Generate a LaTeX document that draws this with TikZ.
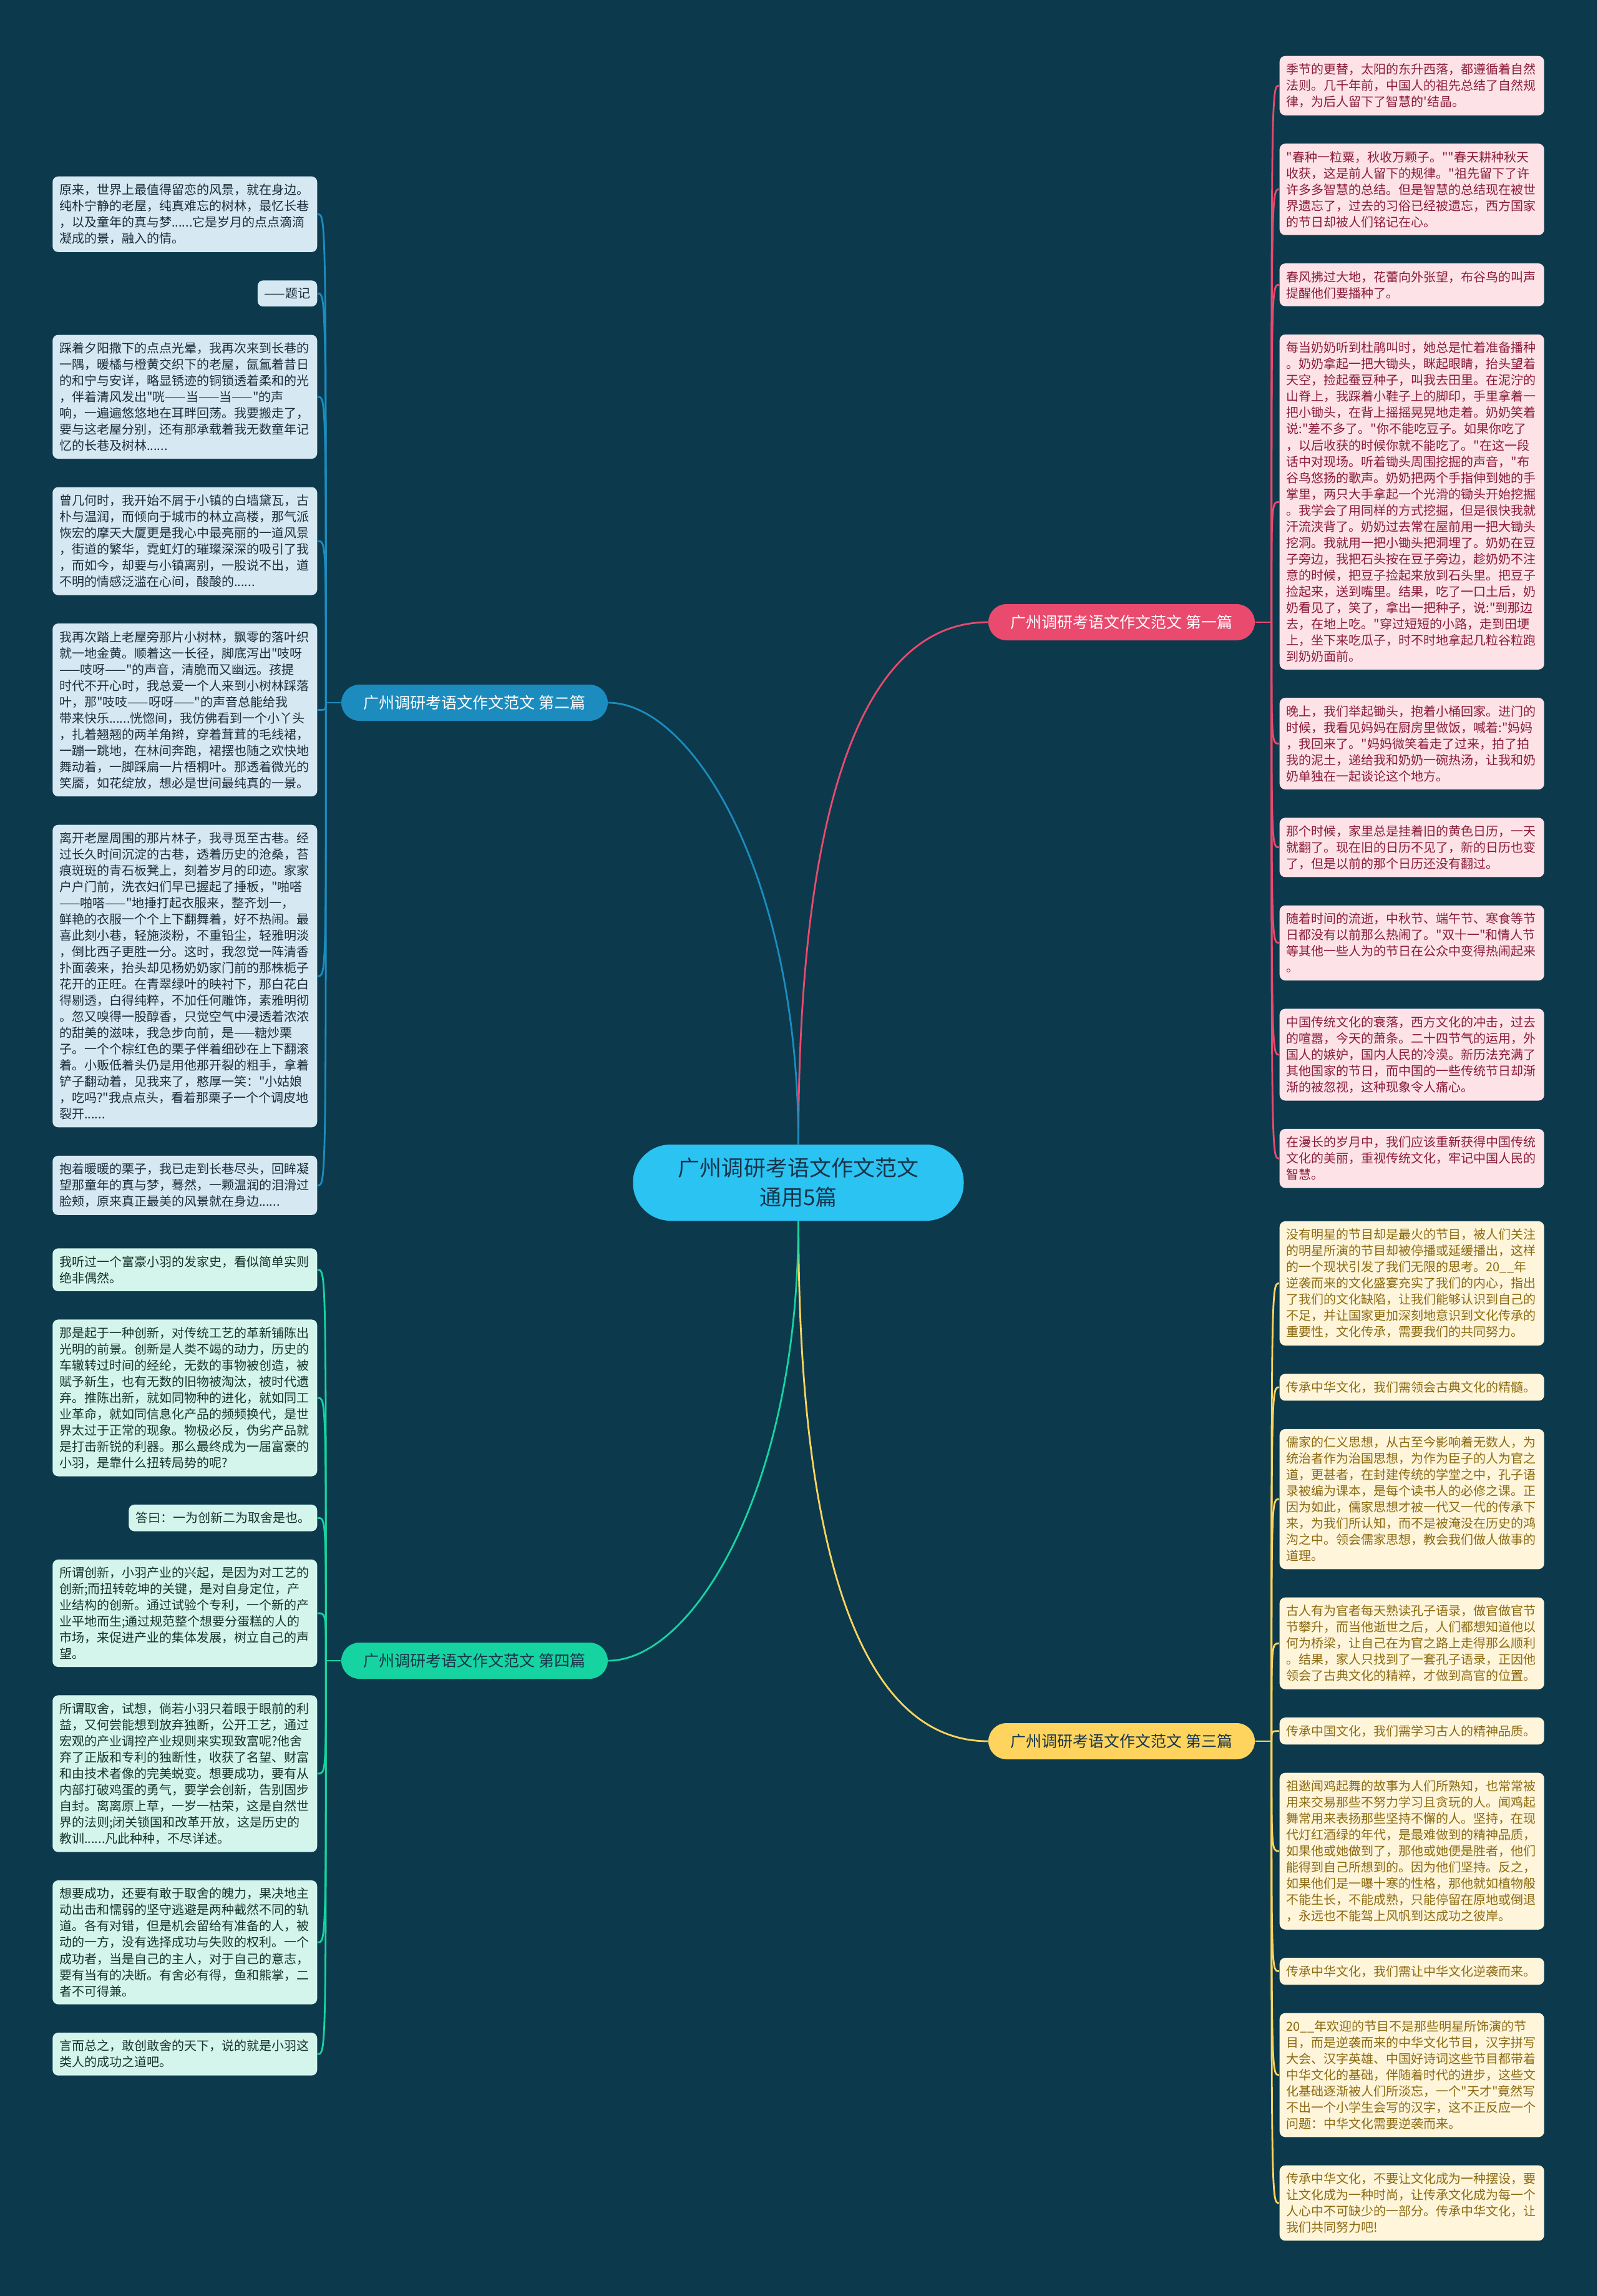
\documentclass[tikz,border=0pt]{standalone}
\usepackage{fontspec}
\newfontfamily\cjk{Noto Sans CJK SC}
\usepackage{tikz}
\usetikzlibrary{positioning,calc}

\definecolor{bgcol}{HTML}{0C3A4C}
\definecolor{rootcol}{HTML}{2BC3F2}
\definecolor{roottext}{HTML}{16354A}
\definecolor{yicol}{HTML}{E94A6E}
\definecolor{yileafcol}{HTML}{FDE2E8}
\definecolor{yitext}{HTML}{8A1C38}
\definecolor{ercol}{HTML}{1C8CBF}
\definecolor{erleafcol}{HTML}{D6E8F1}
\definecolor{ertext}{HTML}{1A2E3C}
\definecolor{sancol}{HTML}{FFD45E}
\definecolor{sanleafcol}{HTML}{FFF5DA}
\definecolor{santext}{HTML}{8B6A12}
\definecolor{sicol}{HTML}{16D4A2}
\definecolor{sileafcol}{HTML}{D4F5EC}
\definecolor{sitext}{HTML}{17332C}

\tikzset{
    leaf/.style={rectangle,rounded corners=0.9mm,inner xsep=1.1mm,inner ysep=1.2mm,
                 text width=40.2mm,align=left,font=\cjk\fontsize{5.69pt}{7.4pt}\selectfont},
    tag/.style={rectangle,rounded corners=0.9mm,inner xsep=1.1mm,inner ysep=1.2mm,
                font=\cjk\fontsize{5.69pt}{7.4pt}\selectfont},
    pian/.style={rectangle,rounded corners=2.9mm,minimum width=42.7mm,minimum height=5.8mm,
                 inner sep=0pt,font=\cjk\fontsize{7.11pt}{8.5pt}\selectfont},
    yileaf/.style={leaf,fill=yileafcol,text=yitext},
    erleaf/.style={leaf,fill=erleafcol,text=ertext},
    sanleaf/.style={leaf,fill=sanleafcol,text=santext},
    sileaf/.style={leaf,fill=sileafcol,text=sitext},
    yiline/.style={draw=yicol,line width=0.28mm},
    erline/.style={draw=ercol,line width=0.28mm},
    sanline/.style={draw=sancol,line width=0.28mm},
    siline/.style={draw=sicol,line width=0.28mm},
}

\begin{document}
\begin{tikzpicture}[x=1mm,y=-1mm,
    root/.style={rectangle,rounded corners=6mm,fill=rootcol,text=roottext,minimum width=53mm,
                 minimum height=12.2mm,align=center,font=\cjk\fontsize{9.96pt}{13.4pt}\selectfont},
]
    \useasboundingbox (0,0) rectangle (256,367.9);
    \fill[bgcol] (0,0) rectangle (256,367.9);

    % ---- 中心主题 ----
    \node[root] (root) at (127.95,189.5) {广州调研考语文作文范文\\通用5篇};

    % ---- 四个分支 ----
    \node[pian,fill=yicol,text=white] (yi) at (179.75,99.7) {广州调研考语文作文范文 第一篇};
    \node[pian,fill=ercol,text=white] (er) at (76.05,112.6) {广州调研考语文作文范文 第二篇};
    \node[pian,fill=sancol,text=roottext] (san) at (179.75,279.0) {广州调研考语文作文范文 第三篇};
    \node[pian,fill=sicol,text=roottext] (si) at (76.05,266.1) {广州调研考语文作文范文 第四篇};

    % ---- 第一篇 (右侧上) ----
    \node[yileaf,anchor=north west] (yi1) at (205,8.9)
        {季节的更替，太阳的东升西落，都遵循着自然\\法则。几千年前，中国人的祖先总结了自然规\\律，为后人留下了智慧的'结晶。};
    \node[yileaf,below=4.4mm of yi1.south west,anchor=north west] (yi2)
        {"春种一粒粟，秋收万颗子。""春天耕种秋天\\收获，这是前人留下的规律。"祖先留下了许\\许多多智慧的总结。但是智慧的总结现在被世\\界遗忘了，过去的习俗已经被遗忘，西方国家\\的节日却被人们铭记在心。};
    \node[yileaf,below=4.4mm of yi2.south west,anchor=north west] (yi3)
        {春风拂过大地，花蕾向外张望，布谷鸟的叫声\\提醒他们要播种了。};
    \node[yileaf,below=4.4mm of yi3.south west,anchor=north west] (yi4)
        {每当奶奶听到杜鹃叫时，她总是忙着准备播种\\。奶奶拿起一把大锄头，眯起眼睛，抬头望着\\天空，捡起蚕豆种子，叫我去田里。在泥泞的\\山脊上，我踩着小鞋子上的脚印，手里拿着一\\把小锄头，在背上摇摇晃晃地走着。奶奶笑着\\说:"差不多了。"你不能吃豆子。如果你吃了\\，以后收获的时候你就不能吃了。"在这一段\\话中对现场。听着锄头周围挖掘的声音，"布\\谷鸟悠扬的歌声。奶奶把两个手指伸到她的手\\掌里，两只大手拿起一个光滑的锄头开始挖掘\\。我学会了用同样的方式挖掘，但是很快我就\\汗流浃背了。奶奶过去常在屋前用一把大锄头\\挖洞。我就用一把小锄头把洞埋了。奶奶在豆\\子旁边，我把石头按在豆子旁边，趁奶奶不注\\意的时候，把豆子捡起来放到石头里。把豆子\\捡起来，送到嘴里。结果，吃了一口土后，奶\\奶看见了，笑了，拿出一把种子，说:"到那边\\去，在地上吃。"穿过短短的小路，走到田埂\\上，坐下来吃瓜子，时不时地拿起几粒谷粒跑\\到奶奶面前。};
    \node[yileaf,below=4.4mm of yi4.south west,anchor=north west] (yi5)
        {晚上，我们举起锄头，抱着小桶回家。进门的\\时候，我看见妈妈在厨房里做饭，喊着:"妈妈\\，我回来了。"妈妈微笑着走了过来，拍了拍\\我的泥土，递给我和奶奶一碗热汤，让我和奶\\奶单独在一起谈论这个地方。};
    \node[yileaf,below=4.4mm of yi5.south west,anchor=north west] (yi6)
        {那个时候，家里总是挂着旧的黄色日历，一天\\就翻了。现在旧的日历不见了，新的日历也变\\了，但是以前的那个日历还没有翻过。};
    \node[yileaf,below=4.4mm of yi6.south west,anchor=north west] (yi7)
        {随着时间的流逝，中秋节、端午节、寒食等节\\日都没有以前那么热闹了。"双十一"和情人节\\等其他一些人为的节日在公众中变得热闹起来\\。};
    \node[yileaf,below=4.4mm of yi7.south west,anchor=north west] (yi8)
        {中国传统文化的衰落，西方文化的冲击，过去\\的喧嚣，今天的萧条。二十四节气的运用，外\\国人的嫉妒，国内人民的冷漠。新历法充满了\\其他国家的节日，而中国的一些传统节日却渐\\渐的被忽视，这种现象令人痛心。};
    \node[yileaf,below=4.4mm of yi8.south west,anchor=north west] (yi9)
        {在漫长的岁月中，我们应该重新获得中国传统\\文化的美丽，重视传统文化，牢记中国人民的\\智慧。};

    % ---- 第三篇 (右侧下) ----
    \node[sanleaf,below=5.2mm of yi9.south west,anchor=north west] (san1)
        {没有明星的节目却是最火的节目，被人们关注\\的明星所演的节目却被停播或延缓播出，这样\\的一个现状引发了我们无限的思考。20\_\_年\\逆袭而来的文化盛宴充实了我们的内心，指出\\了我们的文化缺陷，让我们能够认识到自己的\\不足，并让国家更加深刻地意识到文化传承的\\重要性，文化传承，需要我们的共同努力。};
    \node[sanleaf,below=4.4mm of san1.south west,anchor=north west] (san2)
        {传承中华文化，我们需领会古典文化的精髓。};
    \node[sanleaf,below=4.4mm of san2.south west,anchor=north west] (san3)
        {儒家的仁义思想，从古至今影响着无数人，为\\统治者作为治国思想，为作为臣子的人为官之\\道，更甚者，在封建传统的学堂之中，孔子语\\录被编为课本，是每个读书人的必修之课。正\\因为如此，儒家思想才被一代又一代的传承下\\来，为我们所认知，而不是被淹没在历史的鸿\\沟之中。领会儒家思想，教会我们做人做事的\\道理。};
    \node[sanleaf,below=4.4mm of san3.south west,anchor=north west] (san4)
        {古人有为官者每天熟读孔子语录，做官做官节\\节攀升，而当他逝世之后，人们都想知道他以\\何为桥梁，让自己在为官之路上走得那么顺利\\。结果，家人只找到了一套孔子语录，正因他\\领会了古典文化的精粹，才做到高官的位置。};
    \node[sanleaf,below=4.4mm of san4.south west,anchor=north west] (san5)
        {传承中国文化，我们需学习古人的精神品质。};
    \node[sanleaf,below=4.4mm of san5.south west,anchor=north west] (san6)
        {祖逖闻鸡起舞的故事为人们所熟知，也常常被\\用来交易那些不努力学习且贪玩的人。闻鸡起\\舞常用来表扬那些坚持不懈的人。坚持，在现\\代灯红酒绿的年代，是最难做到的精神品质，\\如果他或她做到了，那他或她便是胜者，他们\\能得到自己所想到的。因为他们坚持。反之，\\如果他们是一曝十寒的性格，那他就如植物般\\不能生长，不能成熟，只能停留在原地或倒退\\，永远也不能驾上风帆到达成功之彼岸。};
    \node[sanleaf,below=4.4mm of san6.south west,anchor=north west] (san7)
        {传承中华文化，我们需让中华文化逆袭而来。};
    \node[sanleaf,below=4.4mm of san7.south west,anchor=north west] (san8)
        {20\_\_年欢迎的节目不是那些明星所饰演的节\\目，而是逆袭而来的中华文化节目，汉字拼写\\大会、汉字英雄、中国好诗词这些节目都带着\\中华文化的基础，伴随着时代的进步，这些文\\化基础逐渐被人们所淡忘，一个"天才"竟然写\\不出一个小学生会写的汉字，这不正反应一个\\问题：中华文化需要逆袭而来。};
    \node[sanleaf,below=4.4mm of san8.south west,anchor=north west] (san9)
        {传承中华文化，不要让文化成为一种摆设，要\\让文化成为一种时尚，让传承文化成为每一个\\人心中不可缺少的一部分。传承中华文化，让\\我们共同努力吧!};

    % ---- 第二篇 (左侧上) ----
    \node[erleaf,anchor=north east] (er1) at (50.9,28.2)
        {原来，世界上最值得留恋的风景，就在身边。\\纯朴宁静的老屋，纯真难忘的树林，最忆长巷\\，以及童年的真与梦......它是岁月的点点滴滴\\凝成的景，融入的情。};
    \node[tag,fill=erleafcol,text=ertext,below=4.4mm of er1.south east,anchor=north east] (er2)
        {——题记};
    \node[erleaf,below=4.4mm of er2.south east,anchor=north east] (er3)
        {踩着夕阳撒下的点点光晕，我再次来到长巷的\\一隅，暖橘与橙黄交织下的老屋，氤氲着昔日\\的和宁与安详，略显锈迹的铜锁透着柔和的光\\，伴着清风发出"咣——当——当——"的声\\响，一遍遍悠悠地在耳畔回荡。我要搬走了，\\要与这老屋分别，还有那承载着我无数童年记\\忆的长巷及树林......};
    \node[erleaf,below=4.4mm of er3.south east,anchor=north east] (er4)
        {曾几何时，我开始不屑于小镇的白墙黛瓦，古\\朴与温润，而倾向于城市的林立高楼，那气派\\恢宏的摩天大厦更是我心中最亮丽的一道风景\\，街道的繁华，霓虹灯的璀璨深深的吸引了我\\，而如今，却要与小镇离别，一股说不出，道\\不明的情感泛滥在心间，酸酸的......};
    \node[erleaf,below=4.4mm of er4.south east,anchor=north east] (er5)
        {我再次踏上老屋旁那片小树林，飘零的落叶织\\就一地金黄。顺着这一长径，脚底泻出"吱呀\\——吱呀——"的声音，清脆而又幽远。孩提\\时代不开心时，我总爱一个人来到小树林踩落\\叶，那"吱吱——呀呀——"的声音总能给我\\带来快乐......恍惚间，我仿佛看到一个小丫头\\，扎着翘翘的两羊角辫，穿着茸茸的毛线裙，\\一蹦一跳地，在林间奔跑，裙摆也随之欢快地\\舞动着，一脚踩扁一片梧桐叶。那透着微光的\\笑靥，如花绽放，想必是世间最纯真的一景。};
    \node[erleaf,below=4.4mm of er5.south east,anchor=north east] (er6)
        {离开老屋周围的那片林子，我寻觅至古巷。经\\过长久时间沉淀的古巷，透着历史的沧桑，苔\\痕斑斑的青石板凳上，刻着岁月的印迹。家家\\户户门前，洗衣妇们早已握起了捶板，"啪嗒\\——啪嗒——"地捶打起衣服来，整齐划一，\\鲜艳的衣服一个个上下翻舞着，好不热闹。最\\喜此刻小巷，轻施淡粉，不重铅尘，轻雅明淡\\，倒比西子更胜一分。这时，我忽觉一阵清香\\扑面袭来，抬头却见杨奶奶家门前的那株栀子\\花开的正旺。在青翠绿叶的映衬下，那白花白\\得剔透，白得纯粹，不加任何雕饰，素雅明彻\\。忽又嗅得一股醇香，只觉空气中浸透着浓浓\\的甜美的滋味，我急步向前，是——糖炒栗\\子。一个个棕红色的栗子伴着细砂在上下翻滚\\着。小贩低着头仍是用他那开裂的粗手，拿着\\铲子翻动着，见我来了，憨厚一笑："小姑娘\\，吃吗?"我点点头，看着那栗子一个个调皮地\\裂开......};
    \node[erleaf,below=4.4mm of er6.south east,anchor=north east] (er7)
        {抱着暖暖的栗子，我已走到长巷尽头，回眸凝\\望那童年的真与梦，蓦然，一颗温润的泪滑过\\脸颊，原来真正最美的风景就在身边......};

    % ---- 第四篇 (左侧下) ----
    \node[sileaf,below=5.2mm of er7.south east,anchor=north east] (si1)
        {我听过一个富豪小羽的发家史，看似简单实则\\绝非偶然。};
    \node[sileaf,below=4.4mm of si1.south east,anchor=north east] (si2)
        {那是起于一种创新，对传统工艺的革新铺陈出\\光明的前景。创新是人类不竭的动力，历史的\\车辙转过时间的经纶，无数的事物被创造，被\\赋予新生，也有无数的旧物被淘汰，被时代遗\\弃。推陈出新，就如同物种的进化，就如同工\\业革命，就如同信息化产品的频频换代，是世\\界太过于正常的现象。物极必反，伪劣产品就\\是打击新锐的利器。那么最终成为一届富豪的\\小羽，是靠什么扭转局势的呢?};
    \node[tag,fill=sileafcol,text=sitext,below=4.4mm of si2.south east,anchor=north east] (si3)
        {答曰：一为创新二为取舍是也。};
    \node[sileaf,below=4.4mm of si3.south east,anchor=north east] (si4)
        {所谓创新，小羽产业的兴起，是因为对工艺的\\创新;而扭转乾坤的关键，是对自身定位，产\\业结构的创新。通过试验个专利，一个新的产\\业平地而生;通过规范整个想要分蛋糕的人的\\市场，来促进产业的集体发展，树立自己的声\\望。};
    \node[sileaf,below=4.4mm of si4.south east,anchor=north east] (si5)
        {所谓取舍，试想，倘若小羽只着眼于眼前的利\\益，又何尝能想到放弃独断，公开工艺，通过\\宏观的产业调控产业规则来实现致富呢?他舍\\弃了正版和专利的独断性，收获了名望、财富\\和由技术者像的完美蜕变。想要成功，要有从\\内部打破鸡蛋的勇气，要学会创新，告别固步\\自封。离离原上草，一岁一枯荣，这是自然世\\界的法则;闭关锁国和改革开放，这是历史的\\教训......凡此种种，不尽详述。};
    \node[sileaf,below=4.4mm of si5.south east,anchor=north east] (si6)
        {想要成功，还要有敢于取舍的魄力，果决地主\\动出击和懦弱的坚守逃避是两种截然不同的轨\\道。各有对错，但是机会留给有准备的人，被\\动的一方，没有选择成功与失败的权利。一个\\成功者，当是自己的主人，对于自己的意志，\\要有当有的决断。有舍必有得，鱼和熊掌，二\\者不可得兼。};
    \node[sileaf,below=4.4mm of si6.south east,anchor=north east] (si7)
        {言而总之，敢创敢舍的天下，说的就是小羽这\\类人的成功之道吧。};

    % ---- 连线: 中心到分支 ----
    \draw[yiline] (root.north) to[out=90,in=180,out looseness=1.5,in looseness=0.6] (yi.west);
    \draw[erline] (root.north) to[out=90,in=0,out looseness=1.43,in looseness=0.45] (er.east);
    \draw[sanline] (root.south) to[out=-90,in=180,out looseness=1.5,in looseness=0.6] (san.west);
    \draw[siline] (root.south) to[out=-90,in=0,out looseness=1.43,in looseness=0.45] (si.east);

    % ---- 连线: 分支到叶子 ----
    \coordinate (j1) at ([xshift=2.6mm]yi.east);
    \coordinate (j2) at ([xshift=-2.4mm]er.west);
    \coordinate (j3) at ([xshift=2.6mm]san.east);
    \coordinate (j4) at ([xshift=-2.4mm]si.west);
    \draw[yiline] (yi.east) -- (j1);
    \draw[erline] (er.west) -- (j2);
    \draw[sanline] (san.east) -- (j3);
    \draw[siline] (si.west) -- (j4);
    \foreach \i in {1,...,9} {
        \draw[yiline] (j1) .. controls (j1 |- yi\i.west) and (j1 |- yi\i.west) .. (yi\i.west);
        \draw[sanline] (j3) .. controls (j3 |- san\i.west) and (j3 |- san\i.west) .. (san\i.west);
    }
    \foreach \i in {1,...,7} {
        \draw[erline] (j2) .. controls (j2 |- er\i.east) and (j2 |- er\i.east) .. (er\i.east);
        \draw[siline] (j4) .. controls (j4 |- si\i.east) and (j4 |- si\i.east) .. (si\i.east);
    }

\end{tikzpicture}
\end{document}
